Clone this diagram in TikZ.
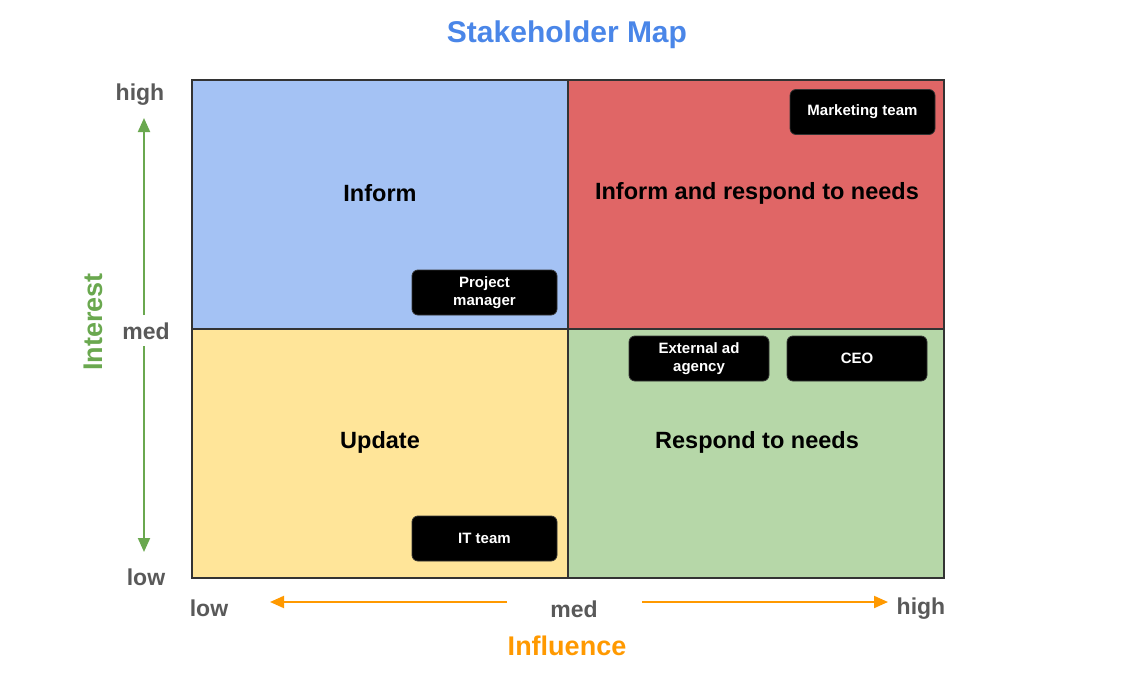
\documentclass[tikz,border=0pt]{standalone}
\usepackage{fontspec}
\setmainfont{Liberation Sans}
\usetikzlibrary{arrows.meta}
\definecolor{qblue}{HTML}{A4C2F4}
\definecolor{qred}{HTML}{E06666}
\definecolor{qyellow}{HTML}{FFE599}
\definecolor{qgreen}{HTML}{B6D7A8}
\definecolor{titleblue}{HTML}{4A86E8}
\definecolor{axgray}{HTML}{595959}
\definecolor{intgreen}{HTML}{6AA84F}
\definecolor{inforange}{HTML}{FF9900}
\definecolor{edgegray}{HTML}{333333}
\begin{document}
\begin{tikzpicture}[x=1pt,y=-1pt,
  quad/.style={draw=edgegray,line width=1.2pt},
  qlabel/.style={font=\fontsize{23.5}{28}\selectfont\bfseries,text=black},
  axlabel/.style={font=\fontsize{23}{27}\selectfont\bfseries,text=axgray},
  person/.style={draw=edgegray,line width=0.8pt,fill=black,rounded corners=6pt,text=white,
    font=\fontsize{15}{18}\selectfont\bfseries,align=center,minimum width=#1,minimum height=45pt,inner sep=2pt},
  person/.default=145pt,
  garrow/.style={draw=intgreen,line width=2pt,-{Triangle[length=14pt,width=12pt]}},
  oarrow/.style={draw=inforange,line width=2pt,-{Triangle[length=14pt,width=12pt]}}]
\useasboundingbox (0,0) rectangle (1125,680);
% title
\node[font=\fontsize{30}{36}\selectfont\bfseries,text=titleblue] (title) at (567,35) {Stakeholder Map};
% quadrants
\fill[qblue] (192,80) rectangle (568,329);
\fill[qred] (568,80) rectangle (944,329);
\fill[qyellow] (192,329) rectangle (568,578);
\fill[qgreen] (568,329) rectangle (944,578);
\draw[quad] (192,80) rectangle (944,578);
\draw[quad] (568,80) -- (568,578);
\draw[quad] (192,329) -- (944,329);
% quadrant labels
\node[qlabel] (qinform) at (380,193) {Inform};
\node[qlabel] (qboth) at (757,193) {Inform and respond to needs};
\node[qlabel] (qupdate) at (380,442) {Update};
\node[qlabel] (qrespond) at (757,442) {Respond to needs};
% stakeholders
\node[person] (mkt) at (862.5,112) {\raisebox{-1.5pt}{Marketing team}};
\node[person] (pm) at (484.5,292.5) {Project\\manager};
\node[person=140pt] (ext) at (699,358.5) {External ad\\agency};
\node[person=140pt] (ceo) at (857,358.5) {\raisebox{-1.5pt}{CEO}};
\node[person] (it) at (484.5,538.5) {\raisebox{-1.5pt}{IT team}};
% vertical axis
\node[axlabel] (yhigh) at (140,95) {high};
\node[axlabel] (ymed) at (146,331) {med};
\node[axlabel] (ylow) at (146,577) {low};
\node[font=\fontsize{27}{32}\selectfont\bfseries,text=intgreen,rotate=90] (interest) at (93,322) {Interest};
\coordinate (ytop) at (144,118);
\coordinate (ytopstart) at (144,315);
\coordinate (ybotstart) at (144,346);
\coordinate (ybot) at (144,552);
\draw[garrow] (ytopstart) -- (ytop);
\draw[garrow] (ybotstart) -- (ybot);
% horizontal axis
\node[axlabel] (xlow) at (209,608) {low};
\node[axlabel] (xmed) at (574,609) {med};
\node[axlabel] (xhigh) at (921,609) {high};
\node[font=\fontsize{27}{32}\selectfont\bfseries,text=inforange] (influence) at (567,646) {Influence};
\coordinate (xleft) at (270,602);
\coordinate (xleftstart) at (507,602);
\coordinate (xrightstart) at (642,602);
\coordinate (xright) at (888,602);
\draw[oarrow] (xleftstart) -- (xleft);
\draw[oarrow] (xrightstart) -- (xright);
\end{tikzpicture}
\end{document}
